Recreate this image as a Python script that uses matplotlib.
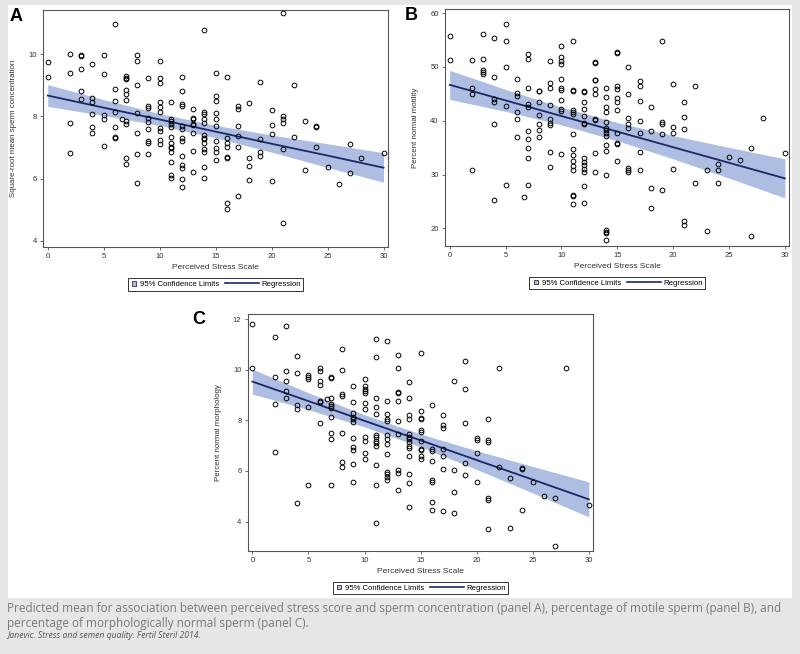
import numpy as np
import matplotlib
matplotlib.use('Agg')
import matplotlib.pyplot as plt
from matplotlib.lines import Line2D
from matplotlib.patches import Rectangle
from matplotlib.legend_handler import HandlerBase

plt.rcParams['font.family'] = ['Liberation Sans', 'DejaVu Sans']

### data: PSS value -> outcome values
pss_a = [0, 2, 3, 4, 5, 6, 6.64, 7, 8, 9, 10, 11, 12, 13, 14, 15, 16, 17, 18, 19,
         20, 21, 22, 23, 24, 25, 26, 27, 28, 30]
conc_a = [
    [9.74, 9.28],
    [10.0, 9.39, 7.79, 6.81],
    [9.97, 9.95, 9.51, 8.82, 8.56],
    [9.67, 8.60, 8.46, 8.09, 7.65, 7.45],
    [9.97, 9.37, 8.06, 7.90, 7.06],
    [10.96, 8.88, 8.51, 8.14, 7.65, 7.35, 7.29],
    [7.93],
    [9.30, 9.24, 9.20, 8.86, 8.72, 8.54, 7.86, 7.77, 6.65, 6.47],
    [9.97, 9.78, 9.01, 8.11, 7.45, 6.79, 5.87],
    [9.25, 8.33, 8.27, 7.96, 7.81, 7.61, 7.22, 7.13, 6.79],
    [9.78, 9.25, 9.06, 8.47, 8.29, 8.15, 7.62, 7.54, 7.24, 7.11],
    [8.47, 7.93, 7.86, 7.77, 7.66, 7.34, 7.15, 7.02, 6.97, 6.86, 6.54, 6.13, 6.03],
    [9.28, 8.81, 8.39, 8.33, 7.69, 7.61, 7.32, 7.20, 6.74, 6.44, 6.34, 5.99, 5.74],
    [8.25, 7.95, 7.92, 7.77, 7.73, 7.45, 6.89, 6.22],
    [10.77, 8.14, 8.07, 7.93, 7.80, 7.39, 7.32, 7.26, 7.13, 6.96, 6.87, 6.38, 6.03],
    [9.41, 8.67, 8.50, 8.12, 7.92, 7.69, 7.21, 6.97, 6.85, 6.60],
    [9.27, 7.31, 7.16, 7.02, 6.70, 6.65, 5.23, 5.02],
    [8.33, 8.25, 7.69, 7.36, 7.02, 5.44],
    [8.42, 6.67, 6.41, 5.95],
    [9.09, 7.26, 6.87, 6.74],
    [8.19, 7.73, 7.43, 5.92],
    [11.31, 8.02, 7.93, 7.79, 6.94, 4.57],
    [9.01, 7.35],
    [7.84, 6.27],
    [7.69, 7.67, 7.00],
    [6.36],
    [5.84],
    [7.11, 6.17],
    [6.65],
    [6.81],
]

pss_b = pss_a
motil_b = [
    [55.66, 51.32],
    [51.32, 46.17, 45.05, 30.79],
    [56.10, 51.44, 49.46, 49.09, 48.71],
    [55.35, 48.09, 44.06, 43.57, 39.35, 25.27],
    [58.02, 54.73, 49.95, 42.76, 28.00],
    [47.84, 45.12, 44.56, 41.71, 40.28, 36.93],
    [25.77],
    [52.43, 51.38, 46.05, 43.07, 42.64, 38.11, 36.68, 34.88, 33.02, 28.00],
    [45.60, 45.50, 43.50, 41.02, 39.35, 38.29, 37.05],
    [51.19, 47.10, 46.17, 43.00, 40.40, 39.66, 39.16, 34.20, 31.47],
    [53.92, 51.81, 51.13, 50.57, 47.72, 46.11, 45.74, 43.88, 42.26, 41.83, 33.83],
    [54.73, 45.70, 45.60, 42.00, 41.60, 41.20, 37.49, 34.76, 33.70, 32.59, 31.53,
     30.85, 26.30, 26.00, 24.53],
    [45.60, 45.30, 43.44, 42.14, 40.90, 39.66, 39.40, 33.02, 32.40, 31.78, 31.10,
     30.48, 27.88, 24.71],
    [51.00, 50.70, 47.60, 47.50, 45.86, 44.99, 40.40, 40.16, 34.08, 30.42],
    [46.17, 44.37, 42.64, 41.64, 39.84, 38.73, 38.30, 37.80, 37.18, 35.44, 34.33,
     29.99, 19.70, 19.38, 19.07, 17.83],
    [52.74, 52.56, 46.48, 45.86, 44.31, 43.44, 41.95, 37.67, 35.94, 35.69, 32.47],
    [49.95, 44.93, 40.47, 39.35, 38.60, 31.16, 30.85, 30.48],
    [47.41, 46.48, 43.75, 39.91, 37.80, 34.26, 30.85],
    [42.51, 38.05, 27.44, 23.78],
    [54.73, 39.72, 39.47, 37.55, 27.07],
    [46.85, 38.85, 37.67, 31.10],
    [43.44, 40.65, 38.54, 21.43, 20.68],
    [46.48, 28.37],
    [30.85, 19.57],
    [32.03, 30.79, 28.50],
    [33.27],
    [32.71],
    [34.88, 18.64],
    [40.59],
    [33.95],
]

pss_c = pss_a
morph_c = [
    [11.79, 10.05],
    [11.30, 9.72, 8.63, 6.74],
    [11.71, 9.95, 9.55, 9.16, 8.87],
    [10.55, 9.86, 8.59, 8.46, 4.74],
    [9.80, 9.72, 9.64, 8.54, 5.43],
    [10.05, 9.96, 9.55, 9.41, 8.78, 8.72, 7.88],
    [8.84],
    [9.72, 9.67, 8.87, 8.64, 8.57, 8.49, 8.12, 7.51, 7.25, 5.46],
    [10.82, 10.00, 9.03, 8.96, 7.51, 6.37, 6.17],
    [9.36, 8.72, 8.28, 8.12, 8.04, 7.95, 7.30, 6.93, 6.83, 6.28, 5.58],
    [9.62, 9.36, 9.25, 9.17, 9.09, 8.67, 8.46, 7.34, 7.18, 6.70, 6.49],
    [11.21, 10.51, 8.89, 8.54, 8.25, 7.43, 7.36, 7.17, 7.09, 7.00, 6.22, 5.46, 3.93],
    [11.13, 8.78, 8.25, 8.04, 7.99, 7.42, 7.25, 7.07, 6.67, 5.97, 5.88, 5.78, 5.64],
    [10.58, 10.05, 9.13, 9.09, 8.75, 7.96, 7.46, 6.04, 5.91, 5.25],
    [9.51, 8.88, 8.22, 8.04, 7.46, 7.36, 7.25, 7.13, 6.99, 6.91, 6.61, 5.88, 5.51, 4.59],
    [10.64, 8.37, 8.08, 8.04, 7.62, 7.55, 7.20, 6.87, 6.83, 6.59, 6.46],
    [8.61, 6.86, 6.79, 6.41, 5.64, 5.57, 4.76, 4.46],
    [8.22, 7.80, 7.71, 6.86, 6.59, 6.07, 4.43],
    [9.55, 6.04, 5.16, 4.33],
    [10.36, 9.24, 7.91, 6.33, 5.83],
    [7.30, 7.22, 6.72, 5.58],
    [8.05, 7.22, 7.14, 4.92, 4.87, 3.71],
    [10.05, 6.17],
    [5.72, 3.74],
    [6.11, 6.07, 4.45],
    [5.58],
    [5.03],
    [4.92, 3.04],
    [10.05],
    [4.66],
]

### predicted mean and 95% limits
fit_x = [0, 5, 10, 15, 20, 25, 30]
fit_a = [8.67, 8.28, 7.90, 7.51, 7.12, 6.74, 6.35]
lo_a = [8.32, 8.03, 7.71, 7.31, 6.85, 6.36, 5.88]
hi_a = [9.02, 8.54, 8.09, 7.71, 7.40, 7.12, 6.83]
fit_b = [46.67, 43.78, 40.88, 37.99, 35.09, 32.20, 29.30]
lo_b = [43.97, 41.74, 39.24, 36.30, 32.93, 29.35, 25.67]
hi_b = [49.37, 45.82, 42.52, 39.68, 37.25, 35.05, 32.93]
fit_c = [9.53, 8.76, 7.98, 7.21, 6.43, 5.66, 4.88]
lo_c = [9.04, 8.42, 7.74, 6.95, 6.06, 5.13, 4.19]
hi_c = [10.02, 9.09, 8.22, 7.46, 6.80, 6.18, 5.57]

band_col = '#aebde2'
line_col = '#1d2868'
bg_col = '#e6e6e6'
LEG_FS = 5.6
LINE_EXTRA = 3.4   # extra length of the regression handle, in font sizes


class SquareHandler(HandlerBase):
    def create_artists(self, legend, orig_handle, xdescent, ydescent,
                       width, height, fontsize, trans):
        s = 0.75 * height
        r = Rectangle((-xdescent + (width - s) / 2, -ydescent + (height - s) / 2), s, s,
                      facecolor=band_col, edgecolor='#333333', lw=0.6, transform=trans)
        return [r]


class LongLineHandler(HandlerBase):
    def create_artists(self, legend, orig_handle, xdescent, ydescent,
                       width, height, fontsize, trans):
        y = height / 2 - ydescent
        ln = Line2D([-xdescent - LINE_EXTRA * fontsize, width - xdescent], [y, y],
                    color=line_col, lw=1.2, transform=trans)
        return [ln]


def flatten(levels, groups):
    xs = np.concatenate([[lv] * len(g) for lv, g in zip(levels, groups)])
    ys = np.concatenate([np.array(g, float) for g in groups])
    return xs, ys


def panel(ax, levels, groups, fit, lo, hi, ylabel, yticks, ylim, letter, letter_xy):
    xs, ys = flatten(levels, groups)
    ax.fill_between(fit_x, lo, hi, color=band_col, lw=0, zorder=1)
    ax.plot(fit_x, fit, color=line_col, lw=1.3, zorder=2)
    ax.plot(xs, ys, 'o', ms=3.4, mfc='none', mec='black', mew=0.7, zorder=3)
    ax.set_xlim(-0.42, 30.4)
    ax.set_ylim(*ylim)
    ax.set_xticks(range(0, 31, 5))
    ax.set_yticks(yticks)
    ax.tick_params(labelsize=5.5, length=2.5, width=0.6, colors='#555555',
                   labelcolor='#333333', pad=2)
    for s in ax.spines.values():
        s.set_color('#555555')
        s.set_linewidth(0.8)
    ax.set_xlabel('Perceived Stress Scale', fontsize=6.0, color='#333333', labelpad=3)
    ax.set_ylabel(ylabel, fontsize=5.7, color='#333333')
    ax.yaxis.set_label_coords(-26 / 345, 0.5)
    sq = Rectangle((0, 0), 1, 1)
    ln = Line2D([], [])
    leg = ax.legend([sq, ln], ['95% Confidence Limits', 'Regression'], ncol=2,
                    loc='center', bbox_to_anchor=(0.5, -0.158), fontsize=LEG_FS,
                    handler_map={sq: SquareHandler(), ln: LongLineHandler()},
                    frameon=True, fancybox=False, edgecolor='black',
                    handlelength=1.0, handletextpad=0.3,
                    columnspacing=LINE_EXTRA + 0.7,
                    borderpad=0.3, borderaxespad=0)
    leg.get_frame().set_linewidth(0.7)
    fig.text(letter_xy[0] / 800, 1 - letter_xy[1] / 654, letter, fontsize=13,
             fontweight='bold', ha='center', va='center')


fig = plt.figure(figsize=(8, 6.54), dpi=100, facecolor=bg_col)
fig.patches.append(Rectangle((8 / 800, 1 - 598 / 654), 784 / 800, 593 / 654,
                             transform=fig.transFigure, facecolor='white',
                             edgecolor='none', zorder=-10))

ax_a = fig.add_axes([0.05375, 0.6223, 0.43125, 0.3624])
ax_b = fig.add_axes([0.55625, 0.6243, 0.4304, 0.3615])
ax_c = fig.add_axes([0.3096, 0.1575, 0.432, 0.3624])

panel(ax_a, pss_a, conc_a, fit_a, lo_a, hi_a, 'Square-root mean sperm concentration',
      [4, 6, 8, 10], (3.8, 11.42), 'A', (16, 16.5))
panel(ax_b, pss_b, motil_b, fit_b, lo_b, hi_b, 'Percent normal motility',
      [20, 30, 40, 50, 60], (16.8, 60.7), 'B', (411, 16))
panel(ax_c, pss_c, morph_c, fit_c, lo_c, hi_c, 'Percent normal morphology',
      [4, 6, 8, 10, 12], (2.84, 12.2), 'C', (199, 320))

### caption
cap = ('Predicted mean for association between perceived stress score and sperm '
       'concentration (panel A), percentage of motile sperm (panel B), and\n'
       'percentage of morphologically normal sperm (panel C).')
fig.text(7 / 800, 1 - 602 / 654, cap, fontsize=8.5, color='#7a7a7a',
         family=['Open Sans', 'DejaVu Sans'], va='top', ha='left', linespacing=1.2)
fig.text(7 / 800, 1 - 635 / 654, 'Janevic. Stress and semen quality. Fertil Steril 2014.',
         fontsize=6.2, color='#555555', style='italic',
         family=['Open Sans', 'DejaVu Sans'], va='center', ha='left')

fig.savefig('out.png', dpi=100, facecolor=bg_col)
